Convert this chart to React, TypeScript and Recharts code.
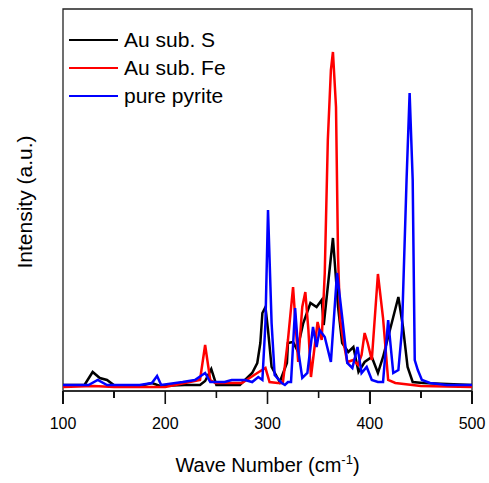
import { LineChart, Line, XAxis, YAxis, ReferenceArea, Legend } from "recharts";

// Au sub. S (black)
const sWn = [100, 117, 121, 129, 136, 143, 151, 175, 187, 195, 219, 234, 239, 245, 250, 273, 285, 290, 293, 295, 298, 300.5, 304, 312, 319, 320, 325, 329, 335, 342, 348, 353, 355, 361, 364, 369, 373, 379, 384, 389, 395, 402, 408, 413, 423, 428, 432.5, 437, 442, 452, 500];
const sVal = [6, 6, 6, 19, 13, 11, 5, 5, 8, 5, 6, 6, 10, 22, 6, 6, 18, 28, 48, 78, 84, 61, 24, 9, 28, 48, 49, 41, 68, 88, 84, 91, 66, 124, 153, 84, 48, 39, 44, 19, 29, 34, 18, 34, 74, 94, 64, 24, 9, 8, 6];

// Au sub. Fe (red)
const feWn = [100, 130, 150, 200, 234, 239, 244, 249, 275, 290, 298, 302, 310, 315, 320, 325, 330, 334, 337, 340, 342.5, 349, 353, 356, 359, 362, 364, 367, 369, 371, 374, 378, 384, 388.5, 392, 395, 398, 402, 408, 413, 418, 425, 450, 500];
const feVal = [4, 5, 4, 4, 11, 46, 11, 8, 8, 18, 23, 9, 8, 8, 51, 104, 29, 84, 99, 61, 14, 69, 51, 118, 251, 321, 339, 284, 134, 72, 51, 29, 31, 26, 36, 58, 48, 31, 117, 73, 11, 8, 5, 4];

// pure pyrite (blue)
const pyWn = [100, 125, 134, 143, 175, 187, 192, 196, 217, 229, 239, 244, 258, 265, 278, 285, 291, 295, 298, 300.5, 304, 307, 314, 317, 320, 323, 327, 330, 334, 339, 344.5, 348, 351, 356, 362, 368, 373, 378, 383, 388, 392, 397, 402, 408, 413, 418, 423, 428, 431.5, 436, 439, 442, 444, 447, 451, 459, 475, 500];
const pyVal = [6, 6, 11, 6, 6, 8, 15, 6, 9, 11, 18, 9, 9, 11, 11, 9, 14, 11, 68, 181, 68, 16, 8, 6, 9, 9, 83, 41, 13, 18, 64, 44, 61, 54, 29, 118, 74, 28, 23, 44, 18, 24, 11, 9, 9, 71, 18, 21, 61, 211, 298, 211, 31, 21, 11, 8, 6, 6];

const xTicks = [100, 150, 200, 250, 300, 350, 400, 450, 500];
const X_MIN = 100;
const X_MAX = 500;

const toRows = (wn: number[], val: number[]) => wn.map((w, i) => ({ wn: w, v: val[i] }));

const series = [
  { name: "Au sub. S", color: "#000000", data: toRows(sWn, sVal) },
  { name: "Au sub. Fe", color: "#ff0000", data: toRows(feWn, feVal) },
  { name: "pure pyrite", color: "#0000ff", data: toRows(pyWn, pyVal) },
];

// layout
const W = 489;
const H = 483;
const PLOT_LEFT = 63;
const PLOT_TOP = 9;
const PLOT_W = 409;
const PLOT_H = 382;

const FONT = "'Liberation Sans', Arial, sans-serif";

function WnTick(props: any) {
  const { x, y, payload } = props;
  const major = payload.value % 100 === 0;
  return (
    <g>
      <path d={`M${x},${y}L${x},${y + (major ? 13 : 7)}`} stroke="#111" strokeWidth={1.6} fill="none" />
      {major && (
        <text x={x} y={y + 38} textAnchor="middle" fontSize={16} fontFamily={FONT} fill="#000" stroke="none">
          {payload.value}
        </text>
      )}
    </g>
  );
}

function XTitle(props: any) {
  const { viewBox } = props;
  const cx = viewBox.x + viewBox.width / 2;
  return (
    <text x={cx} y={viewBox.y + 81} textAnchor="middle" fontSize={20} fontFamily={FONT} fill="#000">
      Wave Number (cm
      <tspan fontSize={13} dy={-8}>-1</tspan>
      <tspan dy={8}>)</tspan>
    </text>
  );
}

function YTitle(props: any) {
  const { viewBox } = props;
  const x = viewBox.x + 32;
  const y = viewBox.y + viewBox.height / 2 + 2;
  return (
    <text x={x} y={y} transform={`rotate(-90 ${x} ${y})`} textAnchor="middle" fontSize={21} fontFamily={FONT} fill="#000">
      Intensity (a.u.)
    </text>
  );
}

// legend rows, plus the outward x ticks (the svg tick lines did not show up)
function LegendBox() {
  const axisY = PLOT_TOP + PLOT_H;
  return (
    <div style={{ position: "relative", width: W, height: H, fontFamily: FONT, fontSize: 21, pointerEvents: "none" }}>
      {series.map((s, i) => (
        <div key={s.name} style={{ position: "absolute", left: 0, top: 26 + i * 28, width: 300, height: 28, lineHeight: "28px" }}>
          <span style={{ position: "absolute", left: 69, top: 12.75, width: 49, height: 2.5, background: s.color }} />
          <span style={{ position: "absolute", left: 124, top: 0, whiteSpace: "nowrap", color: "#000" }}>{s.name}</span>
        </div>
      ))}
      {xTicks.map((t) => {
        const px = PLOT_LEFT + ((t - X_MIN) / (X_MAX - X_MIN)) * PLOT_W;
        return (
          <div
            key={`tk${t}`}
            style={{
              position: "absolute",
              left: px - 0.75,
              top: axisY,
              width: 1.5,
              height: t % 100 === 0 ? 13 : 7,
              background: "#111",
            }}
          />
        );
      })}
    </div>
  );
}

export default function App() {
  return (
    <div style={{ position: "absolute", left: 0, top: 0 }}>
      <LineChart
        width={W}
        height={H}
        margin={{ top: PLOT_TOP, right: W - PLOT_LEFT - PLOT_W, left: 0, bottom: 0 }}
      >
        <XAxis
          dataKey="wn"
          type="number"
          domain={[X_MIN, X_MAX]}
          ticks={xTicks}
          height={H - PLOT_TOP - PLOT_H}
          tickSize={0}
          tickMargin={0}
          tickLine={false}
          tick={<WnTick />}
          axisLine={{ stroke: "#222", strokeWidth: 1.3 }}
          label={<XTitle />}
        />
        <YAxis
          type="number"
          domain={[0, PLOT_H]}
          width={PLOT_LEFT}
          tick={false}
          tickLine={false}
          axisLine={false}
          label={<YTitle />}
        />
        <ReferenceArea x1={X_MIN} x2={X_MAX} y1={0} y2={PLOT_H} fill="none" stroke="#222" strokeWidth={1.3} />
        {series.map((s) => (
          <Line
            key={s.name}
            data={s.data}
            dataKey="v"
            name={s.name}
            stroke={s.color}
            strokeWidth={2.5}
            dot={false}
            isAnimationActive={false}
          />
        ))}
        <Legend
          layout="vertical"
          align="center"
          verticalAlign="middle"
          content={<LegendBox />}
          wrapperStyle={{ left: 0, top: 0, width: W, height: H, pointerEvents: "none" }}
        />
      </LineChart>
    </div>
  );
}
